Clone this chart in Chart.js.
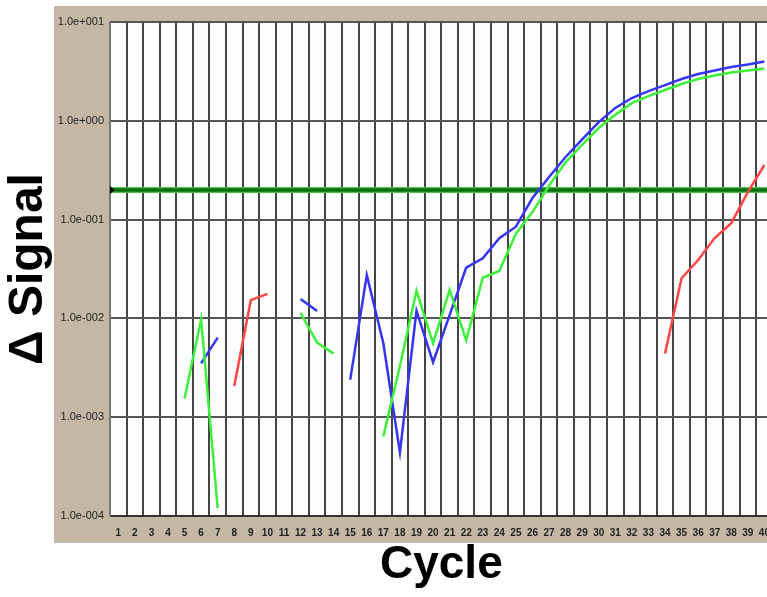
<!DOCTYPE html>
<html>
<head>
<meta charset="utf-8">
<script src="https://cdn.jsdelivr.net/npm/chart.js@4/dist/chart.umd.min.js"></script>
<style>
  html, body { margin: 0; padding: 0; background: #fff; overflow: hidden; }
  #wrap { position: absolute; left: 0; top: 0; width: 781px; height: 597px; }
</style>
</head>
<body>
<div id="wrap"><canvas id="pcr" width="781" height="597"></canvas></div>
<script>
// cycles 1..40
const cycles = Array.from({ length: 40 }, (_, i) => String(i + 1));

// delta signal per cycle (null = no point drawn)
const blueSignal = [
  null, null, null, null, null, 0.0035, 0.0064, null, null, null,
  null, 0.0157, 0.0119, null, 0.0024, 0.0275, 0.0056, 0.00044, 0.0119, 0.0036,
  0.0108, 0.0326, 0.0405, 0.0647, 0.0848, 0.166, 0.27, 0.43, 0.65, 0.97,
  1.35, 1.70, 2.0, 2.30, 2.65, 2.98, 3.23, 3.51, 3.72, 3.98
];
const greenSignal = [
  null, null, null, null, 0.00155, 0.0098, 0.00012, null, null, null,
  null, 0.0114, 0.0057, 0.0044, null, null, 0.00064, 0.0033, 0.0191, 0.0056,
  0.0194, 0.0060, 0.0258, 0.0302, 0.072, 0.119, 0.22, 0.38, 0.57, 0.845,
  1.15, 1.51, 1.78, 2.05, 2.36, 2.65, 2.87, 3.08, 3.23, 3.38
];
const redSignal = [
  null, null, null, null, null, null, null, 0.00207, 0.0153, 0.0177,
  null, null, null, null, null, null, null, null, null, null,
  null, null, null, null, null, null, null, null, null, null,
  null, null, null, 0.0044, 0.0255, 0.039, 0.065, 0.092, 0.19, 0.357
];

const threshold = 0.2;
const yTicks = [1e-4, 1e-3, 1e-2, 1e-1, 1e0, 1e1];

// 1.0e+001 style labels
function sciLabel(v) {
  const e = Math.round(Math.log10(v));
  const s = e < 0 ? '-' : '+';
  return '1.0e' + s + String(Math.abs(e)).padStart(3, '0');
}

const panelPlugin = {
  id: 'panel',
  beforeDraw(chart) {
    const { ctx, chartArea: a } = chart;
    ctx.save();
    ctx.fillStyle = '#ffffff';
    ctx.fillRect(0, 0, chart.width, chart.height);
    ctx.fillStyle = '#c4b8a5';
    ctx.fillRect(54, 6, chart.width - 54, 537);
    ctx.fillStyle = '#fdfdfd';
    ctx.fillRect(a.left, a.top, a.right - a.left, a.bottom - a.top);
    ctx.restore();
  },
  beforeDatasetsDraw(chart) {
    const { ctx, chartArea: a } = chart;
    const y = Math.round(chart.scales.y.getPixelForValue(threshold));
    ctx.save();
    ctx.strokeStyle = '#4cc44c';
    ctx.lineWidth = 6;
    ctx.beginPath(); ctx.moveTo(a.left, y); ctx.lineTo(a.right, y); ctx.stroke();
    ctx.strokeStyle = '#0c6f12';
    ctx.lineWidth = 3.5;
    ctx.beginPath(); ctx.moveTo(a.left, y); ctx.lineTo(a.right, y); ctx.stroke();
    ctx.fillStyle = '#111';
    ctx.beginPath();
    ctx.moveTo(a.left, y - 4); ctx.lineTo(a.left + 5, y); ctx.lineTo(a.left, y + 4);
    ctx.fill();
    ctx.restore();
  }
};

const lineStyle = (color) => ({
  borderColor: color,
  backgroundColor: color,
  borderWidth: 2.5,
  pointRadius: 0,
  tension: 0,
  spanGaps: false,
  fill: false
});

new Chart(document.getElementById('pcr'), {
  type: 'line',
  data: {
    labels: cycles,
    datasets: [
      { data: redSignal, ...lineStyle('#ff4545') },
      { data: greenSignal, ...lineStyle('#3cf03c') },
      { data: blueSignal, ...lineStyle('#3535f5') }
    ]
  },
  options: {
    responsive: false,
    animation: false,
    layout: { padding: { left: 0, top: 22, right: 3, bottom: 0 } },
    plugins: { legend: { display: false }, tooltip: { enabled: false } },
    scales: {
      x: {
        type: 'category',
        offset: true,
        grid: { offset: true, color: '#444', lineWidth: 2, drawTicks: false },
        border: { color: '#333', width: 2 },
        ticks: {
          autoSkip: false, maxRotation: 0, padding: 11,
          color: '#222', font: { family: 'Arial, "Liberation Sans"', size: 10, weight: 'bold' }
        },
        title: {
          display: true, text: 'Cycle', color: '#000',
          font: { family: 'Arial, "Liberation Sans"', size: 46, weight: 'bold' },
          padding: { top: 0, bottom: 4 }
        },
        afterFit(scale) { scale.height = 81; }
      },
      y: {
        type: 'logarithmic',
        min: 1e-4,
        max: 10,
        afterBuildTicks(scale) { scale.ticks = yTicks.map(v => ({ value: v })); },
        grid: { color: '#555', lineWidth: 2, drawTicks: false },
        border: { color: '#777', width: 2 },
        ticks: {
          padding: 6, color: '#222',
          font: { family: 'Arial, "Liberation Sans"', size: 11 },
          callback: (v) => sciLabel(v)
        },
        title: {
          display: true, text: 'Δ Signal', color: '#000',
          font: { family: 'Arial, "Liberation Sans"', size: 48, weight: 'bold' },
          padding: { top: 0, bottom: 0 }
        },
        afterFit(scale) { scale.width = 110; }
      }
    }
  },
  plugins: [panelPlugin]
});
</script>
</body>
</html>
